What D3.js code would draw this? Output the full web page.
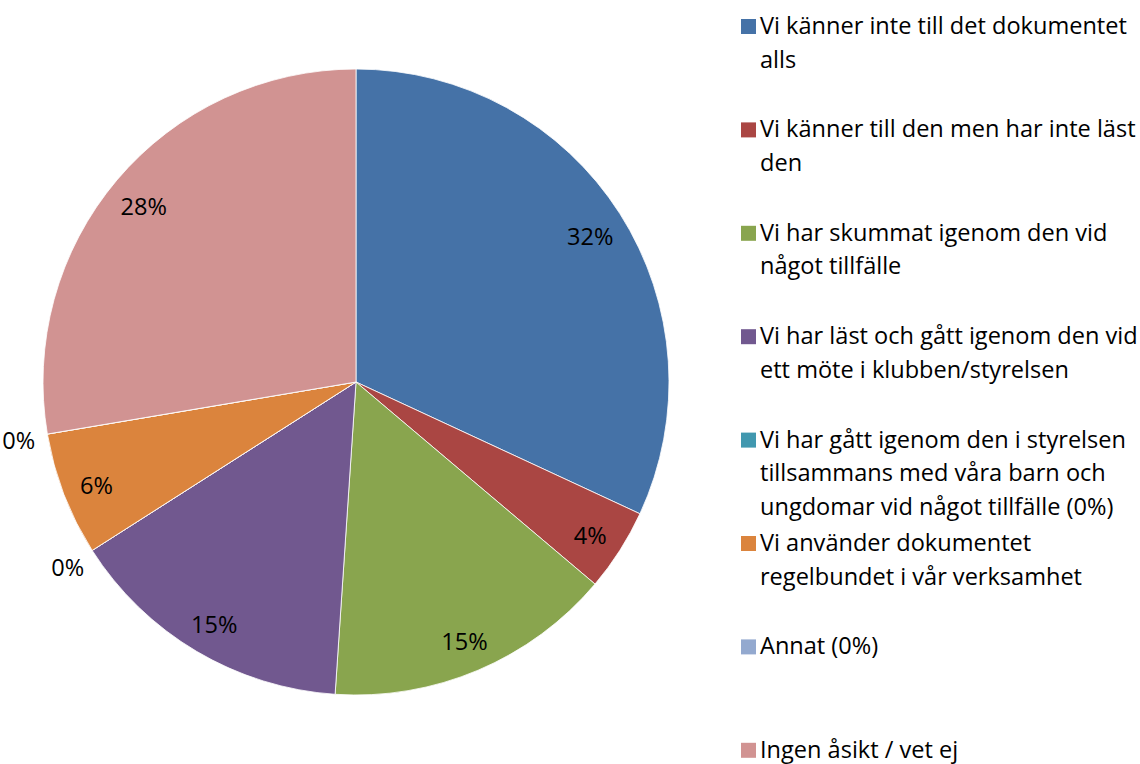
<!DOCTYPE html>
<html><head><meta charset="utf-8">
<script src="https://cdn.jsdelivr.net/npm/d3@7"></script>
<style>body{margin:0;background:#fff}svg{display:block}text{font-family:"Open Sans",sans-serif;fill:#000}</style>
</head><body><svg id="c" width="1140" height="764"></svg>
<script>
const categories = [
  "Vi känner inte till det dokumentet\nalls",
  "Vi känner till den men har inte läst\nden",
  "Vi har skummat igenom den vid\nnågot tillfälle",
  "Vi har läst och gått igenom den vid\nett möte i klubben/styrelsen",
  "Vi har gått igenom den i styrelsen\ntillsammans med våra barn och\nungdomar vid något tillfälle (0%)",
  "Vi använder dokumentet\nregelbundet i vår verksamhet",
  "Annat (0%)",
  "Ingen åsikt / vet ej"
];
const counts = [15, 2, 7, 7, 0, 3, 0, 13];
const colors = ["#4572A7","#AA4643","#89A54E","#71588F","#4198AF","#DB843D","#93A9CF","#D19392"];

const svg = d3.select("#c");
const cx = 356, cy = 382, R = 313;
const total = d3.sum(counts);
const pie = d3.pie().sort(null).value(d => d);
const arcs = pie(counts);
const arc = d3.arc().innerRadius(0).outerRadius(R);
const g = svg.append("g").attr("transform", `translate(${cx},${cy})`);
g.selectAll("path").data(arcs).join("path")
  .attr("d", arc).attr("fill", (d,i) => colors[i])
  .attr("stroke", "#fff").attr("stroke-width", 0.8);

// fit font size so the first legend line spans ~367px like the reference
const probe = svg.append("text").style("font-size","100px").text("Vi känner inte till det dokumentet");
const fs = 100 * 367 / probe.node().getComputedTextLength();
probe.remove();

const inArc = d3.arc().innerRadius(278).outerRadius(278);
const outArc = d3.arc().innerRadius(342).outerRadius(342);
g.selectAll("text.lbl").data(arcs).join("text")
  .attr("class","lbl")
  .attr("transform", d => {
    const c = (d.value === 0 ? outArc : inArc).centroid(d);
    return `translate(${c[0]},${c[1] + (d.value===0?2:4)})`;
  })
  .attr("text-anchor","middle").attr("dy","0.35em")
  .style("font-size", fs + "px")
  .text(d => Math.round(d.value / total * 100) + "%");

const lg = svg.append("g");
categories.forEach((c, i) => {
  const y0 = 34 + i * 103.4;
  lg.append("rect").attr("x", 741).attr("y", y0 - 15).attr("width", 15).attr("height", 15).attr("fill", colors[i]);
  const t = lg.append("text").attr("x", 760).attr("y", y0).style("font-size", fs + "px");
  c.split("\n").forEach((line, j) => {
    t.append("tspan").attr("x", 760).attr("y", y0 + j * 33.5).text(line);
  });
});
</script></body></html>
